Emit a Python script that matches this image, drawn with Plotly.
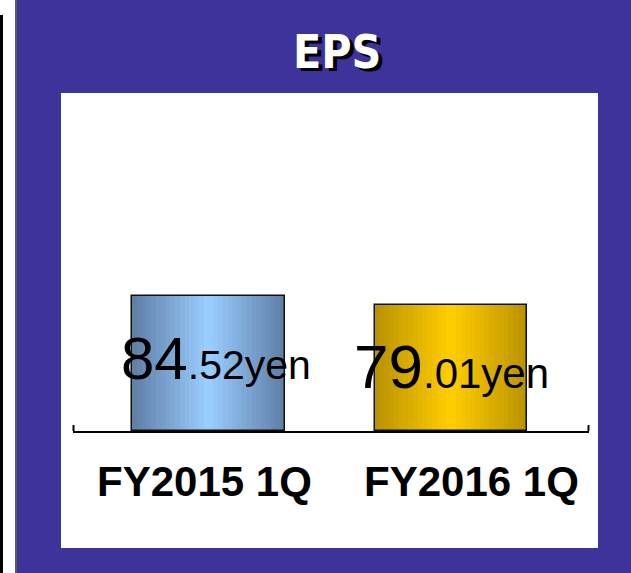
import plotly.graph_objects as go

# ---- data ----
categories = ["FY2015 1Q", "FY2016 1Q"]
eps_values = [84.52, 79.01]
label_int = ["84", "79"]
label_dec = [".52yen", ".01yen"]
title_text = "EPS"

# ---- styling ----
W, H = 631, 573
L, R, T, B = 73, 42, 93, 142
PW, PH = W - L - R, H - T - B
PURPLE = "#3e329b"

edge_cols = [(96, 128, 166), (186, 148, 0)]
center_cols = [(153, 204, 255), (255, 204, 0)]
bar_width = 0.63
N = 16


def px2x(px):
    return (px - L) / PW


def py2y(py):
    return (H - B - py) / PH


def mix(a, b, t):
    return "rgb(%d,%d,%d)" % tuple(round(a[i] + (b[i] - a[i]) * t) for i in range(3))


fig = go.Figure()

# gradient bars: overlaid bars of decreasing width
for k in range(N):
    t = k / (N - 1)
    w = bar_width * (1 - k / N)
    fig.add_trace(go.Bar(
        x=categories, y=eps_values, width=[w, w],
        marker=dict(color=[mix(edge_cols[i], center_cols[i], t) for i in range(2)],
                    line=dict(width=0)),
        hoverinfo="skip", showlegend=False,
    ))
# outline
fig.add_trace(go.Bar(
    x=categories, y=eps_values, width=[bar_width, bar_width],
    marker=dict(color="rgba(0,0,0,0)", line=dict(color="#111", width=1.5)),
    showlegend=False, hoverinfo="x+y",
))

shapes = [
    dict(type="rect", xref="paper", yref="paper", x0=px2x(17), x1=px2x(W), y0=py2y(H), y1=py2y(0),
         fillcolor=PURPLE, line=dict(width=0), layer="below"),
    dict(type="rect", xref="paper", yref="paper", x0=px2x(0), x1=px2x(3), y0=py2y(H), y1=py2y(15),
         fillcolor="black", line=dict(width=0), layer="below"),
    dict(type="rect", xref="paper", yref="paper", x0=px2x(15), x1=px2x(17), y0=py2y(H), y1=py2y(0),
         fillcolor="#5a5a5a", line=dict(width=0), layer="below"),
    dict(type="rect", xref="paper", yref="paper", x0=px2x(61), x1=px2x(598), y0=py2y(548), y1=py2y(93),
         fillcolor="white", line=dict(width=0), layer="below"),
    # axis end caps
    dict(type="line", xref="paper", yref="paper", x0=0.001, x1=0.001, y0=0, y1=6 / PH,
         line=dict(color="black", width=2)),
    dict(type="line", xref="paper", yref="paper", x0=0.999, x1=0.999, y0=0, y1=6 / PH,
         line=dict(color="black", width=2)),
]

annotations = []
# title with shadow
annotations.append(dict(
    text=title_text, xref="paper", yref="paper", x=px2x(337), y=py2y(52),
    showarrow=False,
    font=dict(family="DejaVu Sans Condensed, Liberation Sans", size=46, color="white",
              weight="bold", shadow="4px 3px 0px black"),
    xanchor="center", yanchor="middle"))

# value labels
val_shift = [7, 0]
val_py = [358, 366]
big = [60, 62]
small = [41, 42]
for i in range(2):
    annotations.append(dict(
        text="<span style='font-size:%dpx'>%s</span><span style='font-size:%dpx'>%s</span>"
             % (big[i], label_int[i], small[i], label_dec[i]),
        xref="x", yref="paper", x=categories[i], y=py2y(val_py[i]), xshift=val_shift[i],
        showarrow=False, font=dict(family="Liberation Sans", size=big[i], color="black"),
        xanchor="center", yanchor="middle"))

# category labels
cat_shift = [-4.5, 20]
for i in range(2):
    annotations.append(dict(
        text=categories[i], xref="x", yref="paper", x=categories[i], y=py2y(481),
        xshift=cat_shift[i], showarrow=False,
        font=dict(family="Liberation Sans", size=42, color="black", weight="bold"),
        xanchor="center", yanchor="middle"))

fig.update_layout(
    width=W, height=H,
    margin=dict(l=L, r=R, t=T, b=B, pad=0),
    paper_bgcolor="white", plot_bgcolor="rgba(0,0,0,0)",
    barmode="overlay", bargap=0,
    shapes=shapes, annotations=annotations,
    xaxis=dict(type="category", range=[-0.559, 1.569], showline=True, linecolor="black",
               linewidth=2, showticklabels=False, ticks="", showgrid=False, zeroline=False,
               fixedrange=True),
    yaxis=dict(range=[0, PH / (135 / 84.52)], visible=False, showgrid=False, fixedrange=True),
    showlegend=False,
)

fig.write_html("out.html", config={"displayModeBar": False})

# remove the default page margin so the figure sits at the window's top-left corner
with open("out.html", encoding="utf-8") as f:
    html = f.read()
html = html.replace("<head>", "<head><style>html,body{margin:0;padding:0;overflow:hidden;}</style>", 1)
with open("out.html", "w", encoding="utf-8") as f:
    f.write(html)
